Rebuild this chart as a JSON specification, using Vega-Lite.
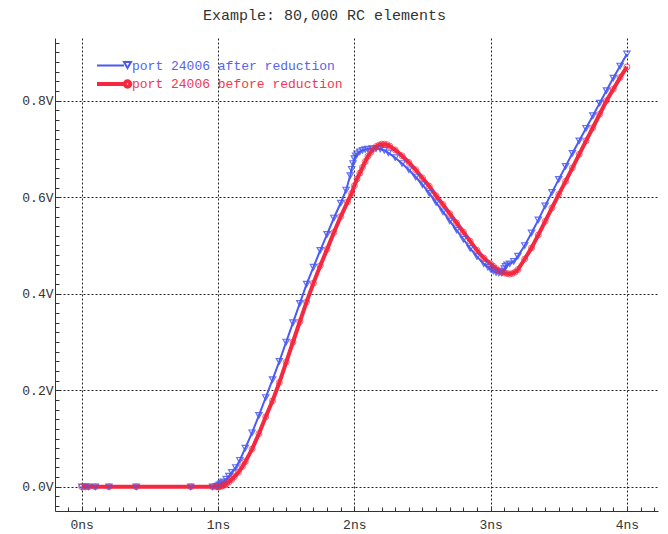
{
  "$schema": "https://vega.github.io/schema/vega-lite/v6.json",
  "width": 603,
  "height": 473,
  "autosize": {"type": "none"},
  "padding": {"left": 55, "top": 38, "right": 10, "bottom": 23},
  "background": "white",
  "config": {"view": {"stroke": null}},
  "title": {"text": "Example: 80,000 RC elements", "font": "Liberation Mono", "fontSize": 15, "fontWeight": "normal", "color": "#333", "anchor": "middle", "dx": -32, "offset": 14},
  "data": {"values": [
    {"t":0,"v":0,"s":"port 24006 after reduction"},{"t":0.025,"v":0,"s":"port 24006 after reduction"},{"t":0.05,"v":0,"s":"port 24006 after reduction"},{"t":0.1,"v":0,"s":"port 24006 after reduction"},{"t":0.2,"v":0,"s":"port 24006 after reduction"},{"t":0.4,"v":0,"s":"port 24006 after reduction"},{"t":0.8,"v":0,"s":"port 24006 after reduction"},{"t":0.96,"v":0,"s":"port 24006 after reduction"},{"t":0.99,"v":0.001,"s":"port 24006 after reduction"},{"t":1.0,"v":0.002,"s":"port 24006 after reduction"},{"t":1.01,"v":0.004,"s":"port 24006 after reduction"},{"t":1.02,"v":0.006,"s":"port 24006 after reduction"},{"t":1.03,"v":0.008,"s":"port 24006 after reduction"},{"t":1.04,"v":0.01,"s":"port 24006 after reduction"},{"t":1.06,"v":0.016,"s":"port 24006 after reduction"},{"t":1.08,"v":0.022,"s":"port 24006 after reduction"},{"t":1.1,"v":0.03,"s":"port 24006 after reduction"},{"t":1.13,"v":0.04,"s":"port 24006 after reduction"},{"t":1.16,"v":0.055,"s":"port 24006 after reduction"},{"t":1.2,"v":0.08,"s":"port 24006 after reduction"},{"t":1.25,"v":0.112,"s":"port 24006 after reduction"},{"t":1.3,"v":0.148,"s":"port 24006 after reduction"},{"t":1.35,"v":0.185,"s":"port 24006 after reduction"},{"t":1.4,"v":0.222,"s":"port 24006 after reduction"},{"t":1.45,"v":0.26,"s":"port 24006 after reduction"},{"t":1.5,"v":0.3,"s":"port 24006 after reduction"},{"t":1.55,"v":0.34,"s":"port 24006 after reduction"},{"t":1.6,"v":0.38,"s":"port 24006 after reduction"},{"t":1.65,"v":0.42,"s":"port 24006 after reduction"},{"t":1.7,"v":0.455,"s":"port 24006 after reduction"},{"t":1.75,"v":0.49,"s":"port 24006 after reduction"},{"t":1.8,"v":0.523,"s":"port 24006 after reduction"},{"t":1.85,"v":0.557,"s":"port 24006 after reduction"},{"t":1.9,"v":0.588,"s":"port 24006 after reduction"},{"t":1.94,"v":0.615,"s":"port 24006 after reduction"},{"t":1.97,"v":0.645,"s":"port 24006 after reduction"},{"t":1.98,"v":0.658,"s":"port 24006 after reduction"},{"t":1.99,"v":0.67,"s":"port 24006 after reduction"},{"t":2.0,"v":0.68,"s":"port 24006 after reduction"},{"t":2.01,"v":0.686,"s":"port 24006 after reduction"},{"t":2.02,"v":0.69,"s":"port 24006 after reduction"},{"t":2.04,"v":0.694,"s":"port 24006 after reduction"},{"t":2.06,"v":0.697,"s":"port 24006 after reduction"},{"t":2.08,"v":0.699,"s":"port 24006 after reduction"},{"t":2.1,"v":0.7,"s":"port 24006 after reduction"},{"t":2.13,"v":0.701,"s":"port 24006 after reduction"},{"t":2.16,"v":0.701,"s":"port 24006 after reduction"},{"t":2.19,"v":0.7,"s":"port 24006 after reduction"},{"t":2.22,"v":0.697,"s":"port 24006 after reduction"},{"t":2.25,"v":0.692,"s":"port 24006 after reduction"},{"t":2.3,"v":0.682,"s":"port 24006 after reduction"},{"t":2.35,"v":0.67,"s":"port 24006 after reduction"},{"t":2.4,"v":0.657,"s":"port 24006 after reduction"},{"t":2.45,"v":0.642,"s":"port 24006 after reduction"},{"t":2.5,"v":0.626,"s":"port 24006 after reduction"},{"t":2.55,"v":0.608,"s":"port 24006 after reduction"},{"t":2.6,"v":0.589,"s":"port 24006 after reduction"},{"t":2.65,"v":0.57,"s":"port 24006 after reduction"},{"t":2.7,"v":0.551,"s":"port 24006 after reduction"},{"t":2.75,"v":0.532,"s":"port 24006 after reduction"},{"t":2.8,"v":0.513,"s":"port 24006 after reduction"},{"t":2.85,"v":0.494,"s":"port 24006 after reduction"},{"t":2.9,"v":0.477,"s":"port 24006 after reduction"},{"t":2.95,"v":0.462,"s":"port 24006 after reduction"},{"t":2.98,"v":0.455,"s":"port 24006 after reduction"},{"t":3.0,"v":0.451,"s":"port 24006 after reduction"},{"t":3.02,"v":0.447,"s":"port 24006 after reduction"},{"t":3.04,"v":0.444,"s":"port 24006 after reduction"},{"t":3.06,"v":0.443,"s":"port 24006 after reduction"},{"t":3.08,"v":0.443,"s":"port 24006 after reduction"},{"t":3.09,"v":0.446,"s":"port 24006 after reduction"},{"t":3.1,"v":0.452,"s":"port 24006 after reduction"},{"t":3.11,"v":0.457,"s":"port 24006 after reduction"},{"t":3.12,"v":0.46,"s":"port 24006 after reduction"},{"t":3.14,"v":0.462,"s":"port 24006 after reduction"},{"t":3.17,"v":0.467,"s":"port 24006 after reduction"},{"t":3.2,"v":0.478,"s":"port 24006 after reduction"},{"t":3.25,"v":0.5,"s":"port 24006 after reduction"},{"t":3.3,"v":0.526,"s":"port 24006 after reduction"},{"t":3.35,"v":0.553,"s":"port 24006 after reduction"},{"t":3.4,"v":0.582,"s":"port 24006 after reduction"},{"t":3.45,"v":0.61,"s":"port 24006 after reduction"},{"t":3.5,"v":0.637,"s":"port 24006 after reduction"},{"t":3.55,"v":0.664,"s":"port 24006 after reduction"},{"t":3.6,"v":0.691,"s":"port 24006 after reduction"},{"t":3.65,"v":0.717,"s":"port 24006 after reduction"},{"t":3.7,"v":0.743,"s":"port 24006 after reduction"},{"t":3.75,"v":0.769,"s":"port 24006 after reduction"},{"t":3.8,"v":0.795,"s":"port 24006 after reduction"},{"t":3.85,"v":0.821,"s":"port 24006 after reduction"},{"t":3.9,"v":0.847,"s":"port 24006 after reduction"},{"t":3.95,"v":0.872,"s":"port 24006 after reduction"},{"t":4.0,"v":0.897,"s":"port 24006 after reduction"},
    {"t":0,"v":0,"s":"port 24006 before reduction"},{"t":0.025,"v":0,"s":"port 24006 before reduction"},{"t":0.05,"v":0,"s":"port 24006 before reduction"},{"t":0.1,"v":0,"s":"port 24006 before reduction"},{"t":0.2,"v":0,"s":"port 24006 before reduction"},{"t":0.4,"v":0,"s":"port 24006 before reduction"},{"t":0.8,"v":0,"s":"port 24006 before reduction"},{"t":0.96,"v":0,"s":"port 24006 before reduction"},{"t":0.99,"v":0,"s":"port 24006 before reduction"},{"t":1.0,"v":0,"s":"port 24006 before reduction"},{"t":1.01,"v":0,"s":"port 24006 before reduction"},{"t":1.02,"v":0.001,"s":"port 24006 before reduction"},{"t":1.03,"v":0.002,"s":"port 24006 before reduction"},{"t":1.04,"v":0.003,"s":"port 24006 before reduction"},{"t":1.05,"v":0.004,"s":"port 24006 before reduction"},{"t":1.06,"v":0.006,"s":"port 24006 before reduction"},{"t":1.08,"v":0.01,"s":"port 24006 before reduction"},{"t":1.1,"v":0.015,"s":"port 24006 before reduction"},{"t":1.12,"v":0.021,"s":"port 24006 before reduction"},{"t":1.15,"v":0.03,"s":"port 24006 before reduction"},{"t":1.18,"v":0.042,"s":"port 24006 before reduction"},{"t":1.2,"v":0.052,"s":"port 24006 before reduction"},{"t":1.25,"v":0.078,"s":"port 24006 before reduction"},{"t":1.3,"v":0.11,"s":"port 24006 before reduction"},{"t":1.35,"v":0.145,"s":"port 24006 before reduction"},{"t":1.4,"v":0.178,"s":"port 24006 before reduction"},{"t":1.45,"v":0.216,"s":"port 24006 before reduction"},{"t":1.5,"v":0.258,"s":"port 24006 before reduction"},{"t":1.55,"v":0.3,"s":"port 24006 before reduction"},{"t":1.6,"v":0.342,"s":"port 24006 before reduction"},{"t":1.65,"v":0.383,"s":"port 24006 before reduction"},{"t":1.7,"v":0.422,"s":"port 24006 before reduction"},{"t":1.75,"v":0.458,"s":"port 24006 before reduction"},{"t":1.8,"v":0.492,"s":"port 24006 before reduction"},{"t":1.85,"v":0.527,"s":"port 24006 before reduction"},{"t":1.9,"v":0.56,"s":"port 24006 before reduction"},{"t":1.95,"v":0.59,"s":"port 24006 before reduction"},{"t":1.98,"v":0.608,"s":"port 24006 before reduction"},{"t":2.0,"v":0.624,"s":"port 24006 before reduction"},{"t":2.02,"v":0.638,"s":"port 24006 before reduction"},{"t":2.04,"v":0.65,"s":"port 24006 before reduction"},{"t":2.06,"v":0.662,"s":"port 24006 before reduction"},{"t":2.08,"v":0.674,"s":"port 24006 before reduction"},{"t":2.1,"v":0.685,"s":"port 24006 before reduction"},{"t":2.12,"v":0.693,"s":"port 24006 before reduction"},{"t":2.14,"v":0.7,"s":"port 24006 before reduction"},{"t":2.16,"v":0.705,"s":"port 24006 before reduction"},{"t":2.18,"v":0.708,"s":"port 24006 before reduction"},{"t":2.2,"v":0.71,"s":"port 24006 before reduction"},{"t":2.22,"v":0.71,"s":"port 24006 before reduction"},{"t":2.24,"v":0.709,"s":"port 24006 before reduction"},{"t":2.26,"v":0.706,"s":"port 24006 before reduction"},{"t":2.3,"v":0.698,"s":"port 24006 before reduction"},{"t":2.35,"v":0.686,"s":"port 24006 before reduction"},{"t":2.4,"v":0.672,"s":"port 24006 before reduction"},{"t":2.45,"v":0.657,"s":"port 24006 before reduction"},{"t":2.5,"v":0.64,"s":"port 24006 before reduction"},{"t":2.55,"v":0.623,"s":"port 24006 before reduction"},{"t":2.6,"v":0.603,"s":"port 24006 before reduction"},{"t":2.65,"v":0.585,"s":"port 24006 before reduction"},{"t":2.7,"v":0.566,"s":"port 24006 before reduction"},{"t":2.75,"v":0.547,"s":"port 24006 before reduction"},{"t":2.8,"v":0.528,"s":"port 24006 before reduction"},{"t":2.85,"v":0.509,"s":"port 24006 before reduction"},{"t":2.9,"v":0.49,"s":"port 24006 before reduction"},{"t":2.95,"v":0.474,"s":"port 24006 before reduction"},{"t":3.0,"v":0.462,"s":"port 24006 before reduction"},{"t":3.02,"v":0.457,"s":"port 24006 before reduction"},{"t":3.04,"v":0.452,"s":"port 24006 before reduction"},{"t":3.06,"v":0.448,"s":"port 24006 before reduction"},{"t":3.08,"v":0.445,"s":"port 24006 before reduction"},{"t":3.1,"v":0.443,"s":"port 24006 before reduction"},{"t":3.12,"v":0.442,"s":"port 24006 before reduction"},{"t":3.14,"v":0.441,"s":"port 24006 before reduction"},{"t":3.16,"v":0.442,"s":"port 24006 before reduction"},{"t":3.18,"v":0.445,"s":"port 24006 before reduction"},{"t":3.2,"v":0.45,"s":"port 24006 before reduction"},{"t":3.25,"v":0.472,"s":"port 24006 before reduction"},{"t":3.3,"v":0.495,"s":"port 24006 before reduction"},{"t":3.35,"v":0.522,"s":"port 24006 before reduction"},{"t":3.4,"v":0.55,"s":"port 24006 before reduction"},{"t":3.45,"v":0.578,"s":"port 24006 before reduction"},{"t":3.5,"v":0.606,"s":"port 24006 before reduction"},{"t":3.55,"v":0.633,"s":"port 24006 before reduction"},{"t":3.6,"v":0.661,"s":"port 24006 before reduction"},{"t":3.65,"v":0.689,"s":"port 24006 before reduction"},{"t":3.7,"v":0.717,"s":"port 24006 before reduction"},{"t":3.75,"v":0.744,"s":"port 24006 before reduction"},{"t":3.8,"v":0.772,"s":"port 24006 before reduction"},{"t":3.85,"v":0.8,"s":"port 24006 before reduction"},{"t":3.9,"v":0.824,"s":"port 24006 before reduction"},{"t":3.95,"v":0.848,"s":"port 24006 before reduction"},{"t":4.0,"v":0.87,"s":"port 24006 before reduction"}
  ]},
  "encoding": {
    "x": {"field": "t", "type": "quantitative",
      "scale": {"domain": [-0.196, 4.228], "nice": false, "zero": false},
      "axis": {"title": null,
        "values": [-0.1,0,0.1,0.2,0.3,0.4,0.5,0.6,0.7,0.8,0.9,1,1.1,1.2,1.3,1.4,1.5,1.6,1.7,1.8,1.9,2,2.1,2.2,2.3,2.4,2.5,2.6,2.7,2.8,2.9,3,3.1,3.2,3.3,3.4,3.5,3.6,3.7,3.8,3.9,4,4.1,4.2],
        "labelExpr": "abs(datum.value - round(datum.value)) < 0.01 ? format(datum.value, 'd') + 'ns' : ''",
        "labelOverlap": false, "labelFlush": false,
        "labelFont": "Liberation Mono", "labelFontSize": 13, "labelColor": "#333", "labelPadding": 12,
        "domainColor": "#333", "tickColor": "#333",
        "tickSize": {"condition": {"test": "abs(datum.value - round(datum.value)) < 0.01", "value": -5}, "value": -4},
        "grid": true, "gridColor": "#222", "gridDash": [2, 2], "gridWidth": 1,
        "gridOpacity": {"condition": {"test": "abs(datum.value - round(datum.value)) < 0.01", "value": 1}, "value": 0}
      }},
    "y": {"field": "v", "type": "quantitative",
      "scale": {"domain": [-0.0502, 0.93], "nice": false, "zero": false},
      "axis": {"title": null,
        "values": [-0.04,-0.02,0,0.02,0.04,0.06,0.08,0.1,0.12,0.14,0.16,0.18,0.2,0.22,0.24,0.26,0.28,0.3,0.32,0.34,0.36,0.38,0.4,0.42,0.44,0.46,0.48,0.5,0.52,0.54,0.56,0.58,0.6,0.62,0.64,0.66,0.68,0.7,0.72,0.74,0.76,0.78,0.8,0.82,0.84,0.86,0.88,0.9,0.92],
        "labelExpr": "abs(datum.value * 5 - round(datum.value * 5)) < 0.01 ? format(datum.value, '.1f') + 'V' : ''",
        "labelOverlap": false, "labelFlush": false,
        "labelFont": "Liberation Mono", "labelFontSize": 13, "labelColor": "#333", "labelPadding": 7,
        "domainColor": "#333", "tickColor": "#333",
        "tickSize": {"condition": {"test": "abs(datum.value * 5 - round(datum.value * 5)) < 0.01", "value": -5}, "value": -4},
        "grid": true, "gridColor": "#222", "gridDash": [2, 2], "gridWidth": 1,
        "gridOpacity": {"condition": {"test": "abs(datum.value * 5 - round(datum.value * 5)) < 0.01", "value": 1}, "value": 0}
      }}
  },
  "layer": [
    {"mark": {"type": "line", "interpolate": "linear"},
     "encoding": {
       "color": {"field": "s", "type": "nominal",
         "scale": {"domain": ["port 24006 after reduction", "port 24006 before reduction"], "range": ["#4a5af5", "#f5283f"]},
         "legend": {"title": null, "orient": "none", "legendX": 62, "legendY": 21, "padding": 0,
           "labelFont": "Liberation Mono", "labelFontSize": 13, "labelOffset": 1, "labelLimit": 0, "rowPadding": 0,
           "symbolSize": 100, "symbolStrokeWidth": 2, "symbolFillColor": "transparent",
           "encode": {
             "labels": {"update": {"fill": {"signal": "datum.value === 'port 24006 after reduction' ? '#5563f0' : '#f0384e'"}}},
             "symbols": {"update": {
               "shape": {"signal": "datum.value === 'port 24006 after reduction' ? 'M-5.4,0 L0,0 M0,-0.7 L1.4,-0.7 L0.7,0.5 Z' : 'M-5.4,0 L0.1,0 M0.15,0 A0.55,0.55 0 1,0 1.25,0 A0.55,0.55 0 1,0 0.15,0'"},
               "fill": {"value": "transparent"},
               "stroke": {"signal": "datum.value === 'port 24006 after reduction' ? '#4a5af5' : '#f5283f'"},
               "strokeWidth": {"signal": "datum.value === 'port 24006 after reduction' ? 2 : 3.5"}
             }}
           }
         }},
       "strokeWidth": {"field": "s", "type": "nominal", "scale": {"domain": ["port 24006 after reduction", "port 24006 before reduction"], "range": [2, 4]}, "legend": null}
     }},
    {"transform": [{"filter": "datum.s === 'port 24006 after reduction'"}],
     "mark": {"type": "point", "shape": "triangle-down", "size": 40, "filled": false, "strokeWidth": 1.2, "opacity": 0.85},
     "encoding": {"color": {"field": "s", "type": "nominal", "legend": null}}},
    {"transform": [{"filter": "datum.s === 'port 24006 before reduction'"}],
     "mark": {"type": "point", "shape": "circle", "size": 36, "filled": false, "strokeWidth": 1, "opacity": 0.7},
     "encoding": {"color": {"field": "s", "type": "nominal", "legend": null}}}
  ]
}
